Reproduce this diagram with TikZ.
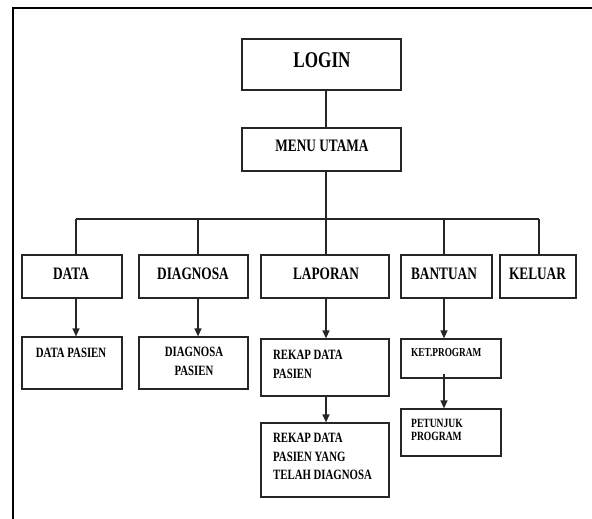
\documentclass[tikz,border=0pt]{standalone}
\usepackage{fontspec}
\usetikzlibrary{arrows.meta,calc}
\newfontfamily\chartfont[FakeStretch=0.76]{Liberation Serif}
\begin{document}
\begin{tikzpicture}[x=1pt,y=-1pt,
  box/.style={draw=black!85,line width=1.2pt,inner sep=0pt,minimum width=#1},
  link/.style={draw=black!85,line width=1.2pt},
  arr/.style={link,-{Triangle[width=7pt,length=8pt]}},
  txt/.style={inner sep=0pt,font=\chartfont\bfseries}]
\useasboundingbox (0,0) rectangle (592,519);
% page frame
\draw[line width=1.8pt] (13,519) -- (13,8) -- (592,8);

% boxes
\node[box=159,minimum height=51] (login) at (321.5,64.5) {};
\node[box=159,minimum height=43] (menu)  at (321.5,149.5) {};
\node[box=100,minimum height=43] (data)  at (72,276.5) {};
\node[box=109,minimum height=43] (diag)  at (193.5,276.5) {};
\node[box=128,minimum height=43] (lap)   at (325,276.5) {};
\node[box=91, minimum height=43] (bant)  at (446.5,276.5) {};
\node[box=76, minimum height=43] (kel)   at (538,276.5) {};
\node[box=100,minimum height=52] (dpas)  at (72,363) {};
\node[box=109,minimum height=52] (dgpas) at (193.5,363) {};
\node[box=128,minimum height=57] (rek1)  at (325,367.5) {};
\node[box=128,minimum height=74] (rek2)  at (325,460) {};
\node[box=100,minimum height=39] (ket)   at (451,358.5) {};
\node[box=100,minimum height=47] (pet)   at (451,432.5) {};

% labels
\node[txt,anchor=north,font=\chartfont\bfseries\fontsize{22.5}{26}\selectfont] (tlogin) at (322,52) {LOGIN};
\node[txt,anchor=north,font=\chartfont\bfseries\fontsize{17.5}{20}\selectfont] (tmenu) at (322,140) {MENU UTAMA};
\tikzset{lvtwo/.style={txt,anchor=north,font=\chartfont\bfseries\fontsize{17.5}{20}\selectfont}}
\node[lvtwo] (tdata) at (71,268) {DATA};
\node[lvtwo] (tdiag) at (193,268) {DIAGNOSA};
\node[lvtwo] (tlap)  at (326,268) {LAPORAN};
\node[lvtwo] (tbant) at (444,268) {BANTUAN};
\node[lvtwo] (tkel)  at (537.5,268) {KELUAR};
\node[txt,anchor=north,font=\chartfont\bfseries\fontsize{14.2}{19}\selectfont] (tdpas) at (71,348) {DATA PASIEN};
\node[txt,anchor=north,align=center,font=\chartfont\bfseries\fontsize{14.2}{19}\selectfont] (tdgpas) at (194,347) {DIAGNOSA\\PASIEN};
\node[txt,anchor=north west,align=left,font=\chartfont\bfseries\fontsize{14.2}{19}\selectfont] (trek1) at (273,350) {REKAP DATA\\PASIEN};
\node[txt,anchor=north west,align=left,font=\chartfont\bfseries\fontsize{14.2}{18.5}\selectfont] (trek2) at (273,433) {REKAP DATA\\PASIEN YANG\\TELAH DIAGNOSA};
\node[txt,anchor=north west,font=\chartfont\bfseries\fontsize{12.2}{13}\selectfont] (tket) at (411,348) {KET.PROGRAM};
\node[txt,anchor=north west,align=left,font=\chartfont\bfseries\fontsize{12.6}{13}\selectfont] (tpet) at (411,419) {PETUNJUK\\PROGRAM};

% branch points on the bus
\coordinate (b1) at (76,219);
\coordinate (b2) at (198,219);
\coordinate (b3) at (326,219);
\coordinate (b4) at (444,219);
\coordinate (b5) at (539,219);

% connectors
\draw[link] (login.south -| b3) -- (menu.north -| b3);
\draw[link] (menu.south -| b3) -- (lap.north -| b3);
\draw[link] (b1) -- (b5);
\draw[link] (b1) -- (data.north -| b1);
\draw[link] (b2) -- (diag.north -| b2);
\draw[link] (b4) -- (bant.north -| b4);
\draw[link] (b5) -- (kel.north -| b5);

\draw[arr] (data.south -| b1) -- (dpas.north -| b1);
\draw[arr] (diag.south -| b2) -- (dgpas.north -| b2);
\draw[arr] (lap.south -| b3) -- (rek1.north -| b3);
\draw[arr] (rek1.south -| b3) -- (rek2.north -| b3);
\draw[arr] (bant.south -| b4) -- (ket.north -| b4);
\draw[arr] ($(ket.south -| b4)+(0,-5)$) -- (pet.north -| b4);
\end{tikzpicture}
\end{document}
